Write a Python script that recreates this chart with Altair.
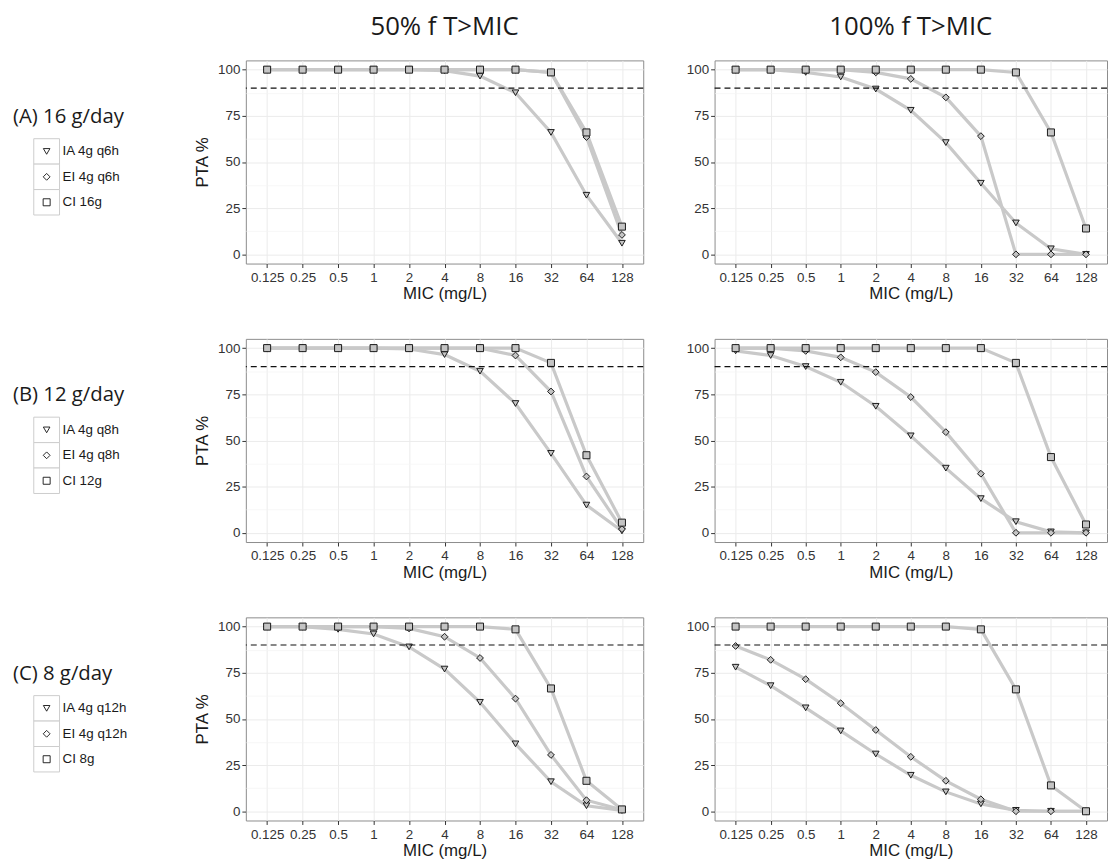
import altair as alt
import pandas as pd

# ---------------- data ----------------
MIC = ["0.125", "0.25", "0.5", "1", "2", "4", "8", "16", "32", "64", "128"]
TYPES = ["IA", "EI", "CI"]
TARGET = 90
Y_TICKS = [0, 25, 50, 75, 100]
Y_MINOR = [12.5, 37.5, 62.5, 87.5]

COL_TITLES = ["50% f T>MIC", "100% f T>MIC"]
ROW_LABELS = ["(A) 16 g/day", "(B) 12 g/day", "(C) 8 g/day"]
LEG_A = ["IA 4g q6h", "EI 4g q6h", "CI 16g"]
LEG_B = ["IA 4g q8h", "EI 4g q8h", "CI 12g"]
LEG_C = ["IA 4g q12h", "EI 4g q12h", "CI 8g"]

A50_IA = [100, 100, 100, 100, 100, 99.5, 96.5, 87.5, 66, 32, 6]
A50_EI = [100, 100, 100, 100, 100, 100, 100, 100, 98.5, 63.5, 10.5]
A50_CI = [100, 100, 100, 100, 100, 100, 100, 100, 98.5, 66, 15]

A100_IA = [100, 100, 98.5, 96, 89.5, 78, 60.5, 38.5, 17, 3, 0]
A100_EI = [100, 100, 100, 100, 98.5, 95, 85, 64, 0, 0, 0]
A100_CI = [100, 100, 100, 100, 100, 100, 100, 100, 98.5, 66, 14]

B50_IA = [100, 100, 100, 100, 99.5, 96.5, 87.5, 70, 43, 15, 1]
B50_EI = [100, 100, 100, 100, 100, 100, 100, 96, 76.5, 30.5, 2]
B50_CI = [100, 100, 100, 100, 100, 100, 100, 100, 92, 42, 5.5]

B100_IA = [98.5, 96, 90, 81.5, 68.5, 52.5, 35, 18.5, 6, 0.5, 0]
B100_EI = [100, 100, 98.5, 95, 87, 73.5, 54.5, 32, 0, 0, 0]
B100_CI = [100, 100, 100, 100, 100, 100, 100, 100, 92, 41, 4.5]

C50_IA = [100, 100, 98.5, 96, 89, 77, 59, 36.5, 16, 3, 0.5]
C50_EI = [100, 100, 100, 100, 99, 94.5, 83, 61, 30.5, 6, 0.8]
C50_CI = [100, 100, 100, 100, 100, 100, 100, 98.5, 66.5, 16.5, 1]

C100_IA = [78, 68, 56, 43.5, 31, 19.5, 10.5, 4, 0.5, 0, 0]
C100_EI = [89.5, 82, 71.5, 58.5, 44, 29.5, 16.5, 6.5, 0, 0, 0]
C100_CI = [100, 100, 100, 100, 100, 100, 100, 98.5, 66, 14, 0]

# ---------------- style ----------------
LINE_COLOR = "#c9c9c9"
PT_FILL = "#c4c4c4"
PT_STROKE = "#1a1a1a"
AXIS_FONT = "Liberation Sans"
TITLE_FONT = "Open Sans"
PANEL_H = 205
LEFT_W = 401
RIGHT_W = 396
LEG_W = 167

SHAPES = ["triangle-down", "diamond", "square"]
PANEL_SIZES = [72, 72, 42]
LEG_SIZES = [44, 50, 30]

thr_df = pd.DataFrame({"PTA": [TARGET]})


def panel(ia, ei, ci, ytitle, title, width):
    df = pd.DataFrame({
        "MIC": MIC * 3,
        "idx": list(range(len(MIC))) * 3,
        "PTA": ia + ei + ci,
        "type": [t for t in TYPES for _ in MIC],
    })
    yscale = alt.Scale(domain=[-5, 105], nice=False, zero=False)
    xenc = alt.X(
        "MIC:N", sort=MIC,
        scale=alt.Scale(type="point", padding=0.6),
        axis=alt.Axis(title="MIC (mg/L)", labelAngle=0, grid=True,
                      labelPadding=3, titlePadding=2),
    )
    yenc = alt.Y(
        "PTA:Q", scale=yscale,
        axis=alt.Axis(values=Y_TICKS, title=ytitle, grid=True,
                      labelPadding=2, titlePadding=6),
    )
    lines = alt.Chart(df).mark_line(color=LINE_COLOR, strokeWidth=3.2).encode(
        x=xenc, y=yenc, detail="type:N", order="idx:Q"
    )
    pts = alt.Chart(df).mark_point(
        filled=True, fill=PT_FILL, stroke=PT_STROKE, strokeWidth=1,
        opacity=1, fillOpacity=1
    ).encode(
        x=xenc, y=yenc,
        shape=alt.Shape("type:N", scale=alt.Scale(domain=TYPES, range=SHAPES), legend=None),
        size=alt.Size("type:N", scale=alt.Scale(domain=TYPES, range=PANEL_SIZES), legend=None),
    )
    rule = alt.Chart(thr_df).mark_rule(color="#111111", strokeWidth=1.1, strokeDash=[6, 4]).encode(
        y=alt.Y("PTA:Q", scale=yscale)
    )
    inner = alt.layer(lines, pts, rule)
    minor = alt.Chart(thr_df).mark_rule(opacity=0).encode(
        y=alt.Y("PTA:Q", scale=yscale,
                axis=alt.Axis(values=Y_MINOR, grid=True, gridColor="#f4f4f4",
                              gridWidth=0.7, labels=False, ticks=False,
                              domain=False, title=None, orient="right"))
    )
    ch = alt.layer(minor, inner).resolve_axis(y="independent").properties(
        width=width, height=PANEL_H
    )
    if title is not None:
        ch = ch.properties(title=alt.TitleParams(
            title, font=TITLE_FONT, fontSize=26, fontWeight="normal",
            color="#1a1a1a", anchor="middle", baseline="alphabetic", offset=0
        ))
    return ch


def legend(row_label, labels):
    ldf = pd.DataFrame({"label": labels, "type": TYPES})
    ysc = alt.Scale(type="band", domain=labels, range=[79, 156],
                    paddingInner=0, paddingOuter=0)
    keys = alt.Chart(ldf).mark_rect(fill="white", stroke="#cccccc", strokeWidth=1).encode(
        x=alt.value(25), x2=alt.value(51),
        y=alt.Y("label:N", sort=labels, scale=ysc, axis=None),
    )
    syms = alt.Chart(ldf).mark_point(
        filled=False, stroke="#111111", strokeWidth=0.9, opacity=1
    ).encode(
        x=alt.value(38),
        y=alt.Y("label:N", sort=labels, scale=ysc, axis=None, bandPosition=0.5),
        shape=alt.Shape("type:N", scale=alt.Scale(domain=TYPES, range=SHAPES), legend=None),
        size=alt.Size("type:N", scale=alt.Scale(domain=TYPES, range=LEG_SIZES), legend=None),
    )
    texts = alt.Chart(ldf).mark_text(
        align="left", baseline="middle", font=AXIS_FONT, fontSize=13.5, color="#1a1a1a"
    ).encode(
        x=alt.value(54),
        y=alt.Y("label:N", sort=labels, scale=ysc, axis=None, bandPosition=0.5),
        text="label:N",
    )
    rl = alt.Chart(pd.DataFrame({"row": [row_label]})).mark_text(
        align="left", baseline="alphabetic", font=TITLE_FONT, fontSize=20.5, color="#1a1a1a"
    ).encode(x=alt.value(4), y=alt.value(63), text="row:N")
    return alt.layer(keys, syms, texts, rl).properties(
        width=LEG_W, height=PANEL_H, view=alt.ViewBackground(stroke="transparent")
    )


cells = [
    legend(ROW_LABELS[0], LEG_A),
    panel(A50_IA, A50_EI, A50_CI, "PTA %", COL_TITLES[0], LEFT_W),
    panel(A100_IA, A100_EI, A100_CI, None, COL_TITLES[1], RIGHT_W),
    legend(ROW_LABELS[1], LEG_B),
    panel(B50_IA, B50_EI, B50_CI, "PTA %", None, LEFT_W),
    panel(B100_IA, B100_EI, B100_CI, None, None, RIGHT_W),
    legend(ROW_LABELS[2], LEG_C),
    panel(C50_IA, C50_EI, C50_CI, "PTA %", None, LEFT_W),
    panel(C100_IA, C100_EI, C100_CI, None, None, RIGHT_W),
]

chart = alt.concat(
    *cells, columns=3, spacing={"row": 76, "column": 72}, bounds="flush"
).properties(
    padding={"top": 1, "bottom": 0, "left": 0, "right": 0}
).configure_view(
    stroke="#8c8c8c", strokeWidth=1
).configure_axis(
    labelFont=AXIS_FONT, labelFontSize=13.5, labelColor="#333333",
    titleFont=AXIS_FONT, titleFontSize=17, titleColor="#1a1a1a", titleFontWeight="normal",
    tickColor="#333333", tickSize=4, tickWidth=1, domain=False,
    gridColor="#ebebeb", gridWidth=1,
)

chart.save("out.html", embed_options={"renderer": "svg", "actions": False})
